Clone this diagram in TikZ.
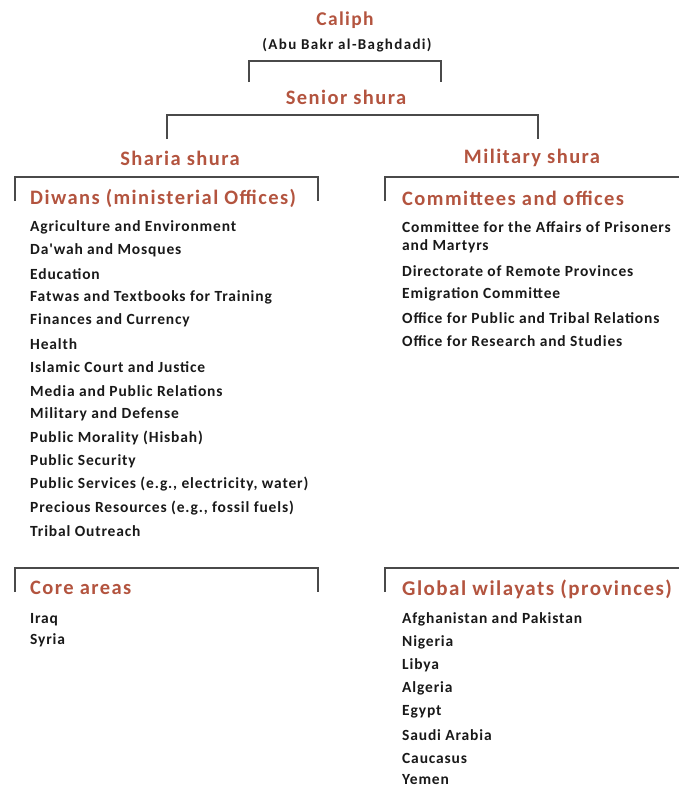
\documentclass[tikz,border=0pt]{standalone}
\usepackage{fontspec}
\setmainfont{Carlito}
\newfontfamily\itemfont[LetterSpace=5.5]{Carlito Bold}
\newfontfamily\headfont[LetterSpace=7]{Carlito Bold}
\newfontfamily\abufont[LetterSpace=9]{Carlito Bold}
\definecolor{headred}{HTML}{B3543F}
\definecolor{linegray}{HTML}{4A4A4A}
\begin{document}
\begin{tikzpicture}[x=1pt,y=-1pt,
  head/.style={text=headred,font=\headfont\fontsize{20.5}{23}\selectfont,inner sep=0pt},
  subhead/.style={text=headred,font=\headfont\fontsize{20.5}{23}\selectfont,inner sep=0pt,anchor=west},
  entry/.style={text=black!90,font=\itemfont\fontsize{15.5}{17}\selectfont,inner sep=0pt,anchor=west},
  bracket/.style={draw=linegray,line width=1.8pt}]
\useasboundingbox (0,0) rectangle (679,790);
% top
\node[head,font=\headfont\fontsize{19.5}{22}\selectfont] (caliph) at (345,20) {Caliph};
\node[text=black!90,font=\abufont\fontsize{15}{17}\selectfont,inner sep=0pt] (abu) at (347,45) {(Abu Bakr al-Baghdadi)};
\node[head] (senior) at (346,97) {Senior shura};
\node[head] (sharia) at (180,158) {Sharia shura};
\node[head] (military) at (532,158) {Military shura};
% brackets
\draw[bracket] (249,82) -- (249,61) -- (441,61) -- (441,82);
\draw[bracket] (167,139) -- (167,115) -- (538,115) -- (538,139);
\draw[bracket] (15,201) -- (15,177) -- (318,177) -- (318,201);
\draw[bracket] (385,201) -- (385,177) -- (679,177);
\draw[bracket] (15,592) -- (15,568) -- (318,568) -- (318,592);
\draw[bracket] (385,592) -- (385,568) -- (679,568);
% Diwans
\node[subhead] (diwans) at (30,198) {Diwans (ministerial Offices)};
\foreach \t [count=\i from 0] in {Agriculture and Environment,Da'wah and Mosques,Education,Fatwas and Textbooks for Training,Finances and Currency,Health,Islamic Court and Justice,Media and Public Relations,Military and Defense,Public Morality (Hisbah),Public Security,{Public Services (e.g., electricity, water)},{Precious Resources (e.g., fossil fuels)},Tribal Outreach}
  \node[entry] (d\i) at (30,{227+23.4*\i}) {\t};
% Committees
\node[subhead] (committees) at (402,198) {Committees and offices};
\node[entry] (c0) at (402,227) {Committee for the Affairs of Prisoners};
\node[entry] (c0b) at (402,246) {and Martyrs};
\node[entry] (c1) at (402,271) {Directorate of Remote Provinces};
\node[entry] (c2) at (402,294) {Emigration Committee};
\node[entry] (c3) at (402,318) {Office for Public and Tribal Relations};
\node[entry] (c4) at (402,341) {Office for Research and Studies};
% Core
\node[subhead] (core) at (30,588) {Core areas};
\node[entry] (k0) at (30,620) {Iraq};
\node[entry] (k1) at (30,640) {Syria};
% Global
\node[subhead,font=\headfont\fontsize{21}{23}\selectfont] (global) at (402,589) {Global wilayats (provinces)};
\foreach \t/\yy [count=\i] in {Afghanistan and Pakistan/619,Nigeria/642,Libya/665,Algeria/688,Egypt/712,Saudi Arabia/735,Caucasus/758,Yemen/780}
  \node[entry] (g\i) at (402,\yy) {\t};
\end{tikzpicture}
\end{document}
